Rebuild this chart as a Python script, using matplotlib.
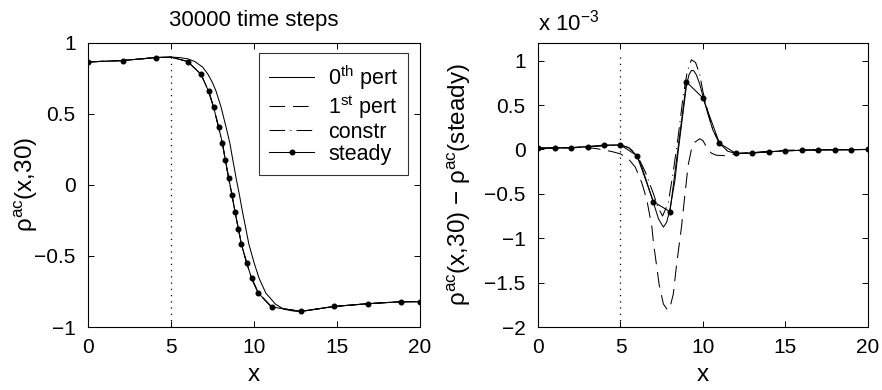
import matplotlib
matplotlib.use("Agg")
import matplotlib.pyplot as plt

plt.rcParams["font.family"] = ["Liberation Sans", "DejaVu Sans"]
plt.rcParams["mathtext.fontset"] = "custom"
plt.rcParams["mathtext.rm"] = "Liberation Sans"
plt.rcParams["mathtext.it"] = "Liberation Sans:italic"
plt.rcParams["font.size"] = 16

# left panel: profiles at t = 30
steady_x = [0, 2.1, 4.1, 5.0, 6.0, 6.8, 7.27, 7.57, 7.87, 8.09, 8.27, 8.47, 8.67,
            8.86, 9.06, 9.24, 9.56, 9.86, 10.26, 11.06, 12.83, 14.84, 16.85, 18.84, 20]
steady_y = [0.866, 0.876, 0.897, 0.900, 0.869, 0.78, 0.658, 0.546, 0.405, 0.297, 0.178,
            0.049, -0.07, -0.192, -0.309, -0.417, -0.55, -0.658, -0.761, -0.859, -0.89,
            -0.855, -0.836, -0.822, -0.822]
steady_marks = [0, 1, 2, 4, 5, 6, 7, 8, 9, 10, 11, 12, 13, 14, 15, 16, 17, 18, 19, 20, 21, 22, 23, 24]

pert0_x = [0, 2.1, 4.1, 5.0, 5.5, 6.0, 6.43, 6.9, 7.22, 7.5, 7.72, 8.02, 8.32, 8.54, 8.72,
           8.92, 9.12, 9.31, 9.51, 9.69, 10.01, 10.31, 10.71, 11.3, 11.8, 12.4, 12.83,
           14.84, 16.85, 18.84, 20]
pert0_y = [0.866, 0.876, 0.897, 0.900, 0.897, 0.888, 0.869, 0.83, 0.78, 0.72, 0.658, 0.546,
           0.405, 0.297, 0.178, 0.049, -0.07, -0.192, -0.309, -0.417, -0.55, -0.658,
           -0.761, -0.84, -0.875, -0.888, -0.89, -0.855, -0.836, -0.822, -0.822]

# right panel: difference to steady state (units of 1e-3)
d_steady_x = list(range(0, 21))
d_steady_y = [0.015, 0.015, 0.02, 0.03, 0.05, 0.05, -0.07, -0.59, -0.70, 0.76, 0.58,
              0.07, -0.045, -0.04, -0.025, -0.015, -0.01, -0.005, -0.005, -0.005, 0.0]

d_pert0_x = [0, 2, 4, 5.0, 5.5, 6.0, 6.3, 6.6, 7.0, 7.3, 7.6, 7.8, 8.0, 8.3, 8.5, 8.75,
             9.0, 9.15, 9.3, 9.45, 9.6, 9.8, 10.0, 10.3, 10.6, 11.0, 11.5, 12, 13, 15, 17, 20]
d_pert0_y = [0.015, 0.02, 0.045, 0.05, 0.02, -0.07, -0.2, -0.37, -0.6, -0.78, -0.875,
             -0.82, -0.67, -0.35, -0.02, 0.35, 0.72, 0.84, 0.89, 0.885, 0.84, 0.74, 0.60,
             0.40, 0.22, 0.07, -0.02, -0.045, -0.04, -0.015, -0.005, 0.0]

d_pert1_x = [0, 2, 3, 3.5, 4, 4.5, 5, 5.5, 5.9, 6.3, 6.6, 6.9, 7.0, 7.35, 7.6, 7.86,
             8.0, 8.2, 8.4, 8.7, 8.9, 9.1, 9.3, 9.5, 9.8, 10.0, 10.2, 10.5, 10.8, 11.3,
             12, 13, 14, 15, 16, 20]
d_pert1_y = [0.01, 0.02, 0.02, 0.01, -0.005, -0.025, -0.05, -0.11, -0.2, -0.38, -0.57,
             -0.87, -1.05, -1.53, -1.74, -1.81, -1.78, -1.63, -1.3, -0.87, -0.52, -0.18,
             0.0, 0.08, 0.12, 0.10, 0.03, -0.04, -0.065, -0.07, -0.05, -0.035, -0.02,
             -0.01, -0.005, 0.0]

d_constr_x = [0, 2, 4, 5.0, 5.5, 6.0, 6.5, 7.0, 7.25, 7.55, 7.9, 8.2, 8.5, 8.8, 9.05,
              9.3, 9.55, 9.8, 10.0, 10.3, 10.6, 11.0, 11.5, 12, 13, 15, 17, 20]
d_constr_y = [0.015, 0.02, 0.04, 0.05, 0.02, -0.06, -0.25, -0.5, -0.64, -0.75, -0.6,
              -0.25, 0.15, 0.6, 0.88, 1.01, 0.98, 0.85, 0.65, 0.42, 0.22, 0.07, -0.02,
              -0.045, -0.04, -0.015, -0.005, 0.0]

lw = 0.75
dash = (15, 7.5)
dashdot = (15, 5, 1, 5)
tick_fs = 15
label_fs = 17.5

fig = plt.figure(figsize=(8.82, 3.9), dpi=100)
ax1 = fig.add_axes([0.0998, 0.1615, 0.3764, 0.7285])
ax2 = fig.add_axes([0.610, 0.1615, 0.374, 0.7285])

# left
ax1.plot(pert0_x, pert0_y, "k-", lw=lw, label="0$^{\\mathrm{th}}$ pert")
ax1.plot(steady_x, steady_y, "k", lw=lw, dashes=dash, label="1$^{\\mathrm{st}}$ pert")
ax1.plot(steady_x, steady_y, "k", lw=lw, dashes=dashdot, label="constr")
ax1.plot(steady_x, steady_y, "k-", lw=lw, marker="o", ms=3.3, markevery=steady_marks,
         label="steady")
ax1.plot([5, 5], [-1, 0.92], "k", lw=0.9, linestyle=(0, (1, 4)))
ax1.set_xlim(0, 20)
ax1.set_ylim(-1, 1)
ax1.set_xticks([0, 5, 10, 15, 20])
ax1.set_yticks([-1, -0.5, 0, 0.5, 1])
ax1.set_yticklabels(["\u22121", "\u22120.5", "0", "0.5", "1"])
ax1.set_xlabel("x", fontsize=label_fs)
ax1.set_ylabel("\u03c1$^{\\mathrm{ac}}$(x,30)", fontsize=label_fs)
ax1.xaxis.set_label_coords(0.5, -0.13)
ax1.yaxis.set_label_coords(-0.145, 0.5)
ax1.set_title("30000 time steps", fontsize=16, pad=12)
leg = ax1.legend(loc="upper right", bbox_to_anchor=(0.964, 0.963), borderaxespad=0,
                 frameon=True, fancybox=False, edgecolor="k", handlelength=2.1,
                 handletextpad=0.65, labelspacing=0.05, borderpad=0.45, fontsize=15.5)
leg.get_frame().set_linewidth(0.8)

# right
ax2.plot(d_pert0_x, d_pert0_y, "k-", lw=lw)
ax2.plot(d_pert1_x, d_pert1_y, "k", lw=lw, dashes=dash)
ax2.plot(d_constr_x, d_constr_y, "k", lw=lw, dashes=dashdot)
ax2.plot(d_steady_x, d_steady_y, "k-", lw=lw, marker="o", ms=3.3)
ax2.plot([5, 5], [-2, 1.07], "k", lw=0.9, linestyle=(0, (1, 4)))
ax2.set_xlim(0, 20)
ax2.set_ylim(-2, 1.2)
ax2.set_xticks([0, 5, 10, 15, 20])
ax2.set_yticks([-2, -1.5, -1, -0.5, 0, 0.5, 1])
ax2.set_yticklabels(["\u22122", "\u22121.5", "\u22121", "\u22120.5", "0", "0.5", "1"])
ax2.set_xlabel("x", fontsize=label_fs)
ax2.set_ylabel("\u03c1$^{\\mathrm{ac}}$(x,30) \u2212 \u03c1$^{\\mathrm{ac}}$(steady)",
               fontsize=label_fs)
ax2.xaxis.set_label_coords(0.5, -0.13)
ax2.yaxis.set_label_coords(-0.197, 0.5)
ax2.text(0.0, 1.042, "x 10$^{-3}$", transform=ax2.transAxes, ha="left", va="baseline",
         fontsize=16)

for ax in (ax1, ax2):
    ax.tick_params(direction="in", top=True, right=True, length=4, width=0.7,
                   labelsize=tick_fs)
    ax.tick_params(axis="x", pad=8)
    ax.tick_params(axis="y", pad=9)
    for s in ax.spines.values():
        s.set_linewidth(0.8)

fig.savefig("out.png", dpi=100)
